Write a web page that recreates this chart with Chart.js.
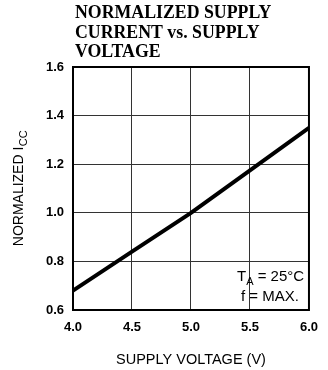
<!DOCTYPE html>
<html>
<head>
<meta charset="utf-8">
<script src="https://cdn.jsdelivr.net/npm/chart.js@4.4.0/dist/chart.umd.min.js"></script>
<style>
  html, body { margin: 0; padding: 0; background: #fff; }
  #wrap { width: 328px; height: 370px; position: relative; }
</style>
</head>
<body>
<div id="wrap"><canvas id="c" width="328" height="370"></canvas></div>
<script>
// ---- data ----
const titleLines = ["NORMALIZED SUPPLY", "CURRENT vs. SUPPLY", "VOLTAGE"];
const supplyVoltage = [4.0, 4.5, 5.0, 5.5, 6.0];
const normalizedIcc = [0.68, 0.84, 1.0, 1.175, 1.35];
const xTicks = [4.0, 4.5, 5.0, 5.5, 6.0];
const yTicks = [0.6, 0.8, 1.0, 1.2, 1.4, 1.6];
const xTitle = "SUPPLY VOLTAGE (V)";
const yTitleMain = "NORMALIZED I";
const yTitleSub = "CC";
const noteLine1 = ["T", "A", " = 25°C"];
const noteLine2 = "f = MAX.";

const SANS = '"Liberation Sans", Arial, Helvetica, sans-serif';
const SERIF = '"Liberation Serif", "Times New Roman", serif';

const points = supplyVoltage.map((v, i) => ({ x: v, y: normalizedIcc[i] }));

const decor = {
  id: 'decor',
  afterDatasetsDraw(chart) {
    const ctx = chart.ctx;
    const a = chart.chartArea;
    ctx.save();
    // frame
    ctx.strokeStyle = '#000';
    ctx.lineWidth = 2;
    ctx.strokeRect(a.left, a.top, a.right - a.left, a.bottom - a.top);

    ctx.fillStyle = '#000';
    ctx.textBaseline = 'alphabetic';
    // title
    ctx.font = 'bold 17.8px ' + SERIF;
    ctx.textAlign = 'left';
    const tb = [18, 37.5, 57];
    titleLines.forEach((t, i) => ctx.fillText(t, 75, tb[i]));

    // x title
    ctx.font = '14.5px ' + SANS;
    ctx.textAlign = 'center';
    ctx.fillText(xTitle, (a.left + a.right) / 2, 364);

    // y title with subscript, rotated
    ctx.save();
    const cy = (a.top + a.bottom) / 2;
    ctx.translate(23, cy);
    ctx.rotate(-Math.PI / 2);
    ctx.textAlign = 'left';
    ctx.font = '14px ' + SANS;
    const w1 = ctx.measureText(yTitleMain).width;
    ctx.font = '11px ' + SANS;
    const w2 = ctx.measureText(yTitleSub).width;
    const start = -(w1 + w2) / 2;
    ctx.font = '14px ' + SANS;
    ctx.fillText(yTitleMain, start, 0);
    ctx.font = '11px ' + SANS;
    ctx.fillText(yTitleSub, start + w1 + 0.5, 4);
    ctx.restore();

    // annotation
    ctx.textAlign = 'left';
    let x = 237;
    ctx.font = '15px ' + SANS;
    ctx.fillText(noteLine1[0], x, 281);
    x += ctx.measureText(noteLine1[0]).width;
    ctx.font = '11px ' + SANS;
    ctx.fillText(noteLine1[1], x, 285);
    x += ctx.measureText(noteLine1[1]).width;
    ctx.font = '15px ' + SANS;
    ctx.fillText(noteLine1[2], x, 281);
    ctx.fillText(noteLine2, 241, 301);
    ctx.restore();
  }
};

new Chart(document.getElementById('c'), {
  type: 'line',
  data: {
    datasets: [{
      data: points,
      borderColor: '#000',
      borderWidth: 4,
      pointRadius: 0,
      tension: 0,
      fill: false
    }]
  },
  options: {
    responsive: false,
    animation: false,
    devicePixelRatio: 1,
    layout: { padding: { left: 0, top: 67, right: 12, bottom: 0 } },
    plugins: { legend: { display: false }, title: { display: false }, tooltip: { enabled: false } },
    scales: {
      x: {
        type: 'linear',
        min: xTicks[0],
        max: xTicks[xTicks.length - 1],
        afterBuildTicks: s => { s.ticks = xTicks.map(v => ({ value: v })); },
        afterFit: s => { s.height = 60; },
        ticks: {
          color: '#000',
          font: { family: SANS, size: 13, weight: 'bold' },
          padding: 10,
          maxRotation: 0,
          callback: v => Number(v).toFixed(1)
        },
        grid: { color: '#333', lineWidth: 1, drawTicks: false },
        border: { display: false }
      },
      y: {
        min: yTicks[0],
        max: yTicks[yTicks.length - 1],
        afterBuildTicks: s => { s.ticks = yTicks.map(v => ({ value: v })); },
        afterFit: s => { s.width = 73; },
        ticks: {
          color: '#000',
          font: { family: SANS, size: 13, weight: 'bold' },
          padding: 9,
          callback: v => Number(v).toFixed(1)
        },
        grid: { color: '#333', lineWidth: 1, drawTicks: false },
        border: { display: false }
      }
    }
  },
  plugins: [decor]
});
</script>
</body>
</html>
